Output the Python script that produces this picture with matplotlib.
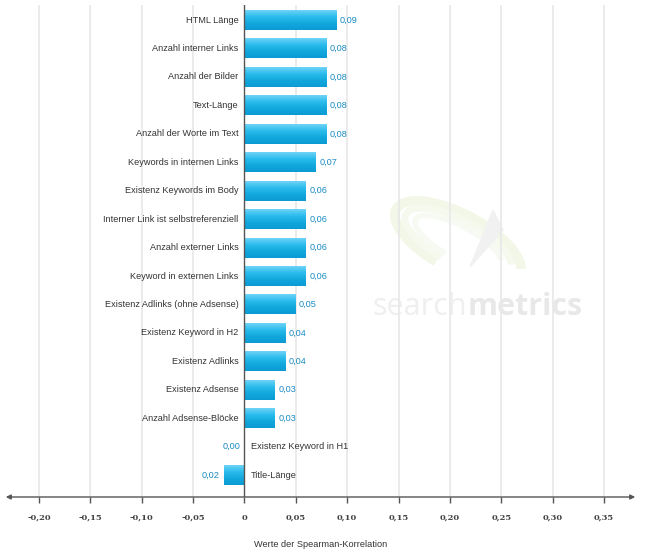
import numpy as np
import matplotlib.pyplot as plt
from matplotlib.colors import LinearSegmentedColormap
from matplotlib.patches import Arc, Polygon

kategorien = ["HTML Länge", "Anzahl interner Links", "Anzahl der Bilder", "Text-Länge",
              "Anzahl der Worte im Text", "Keywords in internen Links", "Existenz Keywords im Body",
              "Interner Link ist selbstreferenziell", "Anzahl externer Links", "Keyword in externen Links",
              "Existenz Adlinks (ohne Adsense)", "Existenz Keyword in H2", "Existenz Adlinks",
              "Existenz Adsense", "Anzahl Adsense-Blöcke", "Existenz Keyword in H1", "Title-Länge"]
werte = [0.09, 0.08, 0.08, 0.08, 0.08, 0.07, 0.06, 0.06, 0.06, 0.06,
         0.05, 0.04, 0.04, 0.03, 0.03, 0.00, -0.02]
ticks = [-0.20, -0.15, -0.10, -0.05, 0, 0.05, 0.10, 0.15, 0.20, 0.25, 0.30, 0.35]

def fmt(v):
    if v == 0:
        return "0"
    return ("%.2f" % v).replace(".", ",")

fig = plt.figure(figsize=(6.5, 5.54), dpi=100)

# watermark logo (faint)
wm = fig.add_axes([0, 0, 1, 1], zorder=0)
wm.set_xlim(0, 650)
wm.set_ylim(554, 0)
wm.axis("off")
for w, hh, lw, c in [(140, 56, 7, "#f2f7e8"), (118, 44, 5, "#f5f9ee"), (96, 32, 4, "#f7faf2")]:
    wm.add_patch(Arc((458, 242), w, hh, angle=28, theta1=110, theta2=355, lw=lw, color=c))
wm.add_patch(Polygon([(493, 210), (503, 230), (470, 267)], closed=True, color="#f1f1f1"))
wm.text(372, 307, "search", fontsize=22, color="#efefef", va="center", family="Open Sans")
wm.text(468, 307, "metrics", fontsize=22, color="#e8e8e8", va="center", family="Open Sans",
        fontweight="bold")

ax = fig.add_axes([3/650, 1-497/554, 635/650, 492/554], zorder=1)
ax.patch.set_alpha(0)
xmin, xmax = -0.235, 0.383
ax.set_xlim(xmin, xmax)
n = len(werte)
ax.set_ylim(n - 1 + 0.77, -0.53)

# gridlines
for t in ticks:
    if t != 0:
        ax.axvline(t, color="#e8e8e8", lw=1.2, zorder=0)
ax.axvline(0, color="#555555", lw=1, zorder=3)

# bars with vertical gradient
grad = np.linspace(0, 1, 50).reshape(-1, 1)
cmap = LinearSegmentedColormap.from_list("b", ["#6fd3f7", "#2bbcec", "#12a8dd", "#0b9bd2"])
h = 0.7
for i, v in enumerate(werte):
    if v == 0:
        continue
    x0, x1 = min(0, v), max(0, v)
    ax.imshow(grad, cmap=cmap, aspect="auto", extent=(x0, x1, i + h/2, i - h/2),
              zorder=2, interpolation="bilinear")

blue = "#1a8cc4"
fs = 6.6
for i, (k, v) in enumerate(zip(kategorien, werte)):
    lab = ("%.2f" % abs(v)).replace(".", ",")
    if v > 0:
        ax.text(-0.006, i, k, ha="right", va="center", fontsize=fs, color="#333333",
                family="Liberation Sans")
        ax.text(v + 0.003, i, lab, ha="left", va="center", fontsize=fs, color=blue,
                family="Liberation Sans")
    else:
        ax.text(0.006, i, k, ha="left", va="center", fontsize=fs, color="#333333",
                family="Liberation Sans")
        ax.text(v - 0.004, i, lab, ha="right", va="center", fontsize=fs, color=blue,
                family="Liberation Sans")

ax.set_xticks(ticks)
ax.set_xticklabels([fmt(t) for t in ticks], fontsize=6, fontweight="bold",
                   family="DejaVu Serif", color="#444444")
ax.tick_params(axis="x", length=4, width=1, color="#555555", pad=8)
ax.set_yticks([])
for s in ax.spines.values():
    s.set_visible(False)
ax.annotate("", xy=(xmax, n - 1 + 0.77), xytext=(xmin, n - 1 + 0.77),
            arrowprops=dict(arrowstyle="<|-|>", color="#555555", lw=1, mutation_scale=7),
            annotation_clip=False, zorder=4)

ax.set_xlabel("Werte der Spearman-Korrelation", fontsize=6.6, color="#333333",
              family="Liberation Sans", labelpad=13)

fig.savefig("out.png", dpi=100)
